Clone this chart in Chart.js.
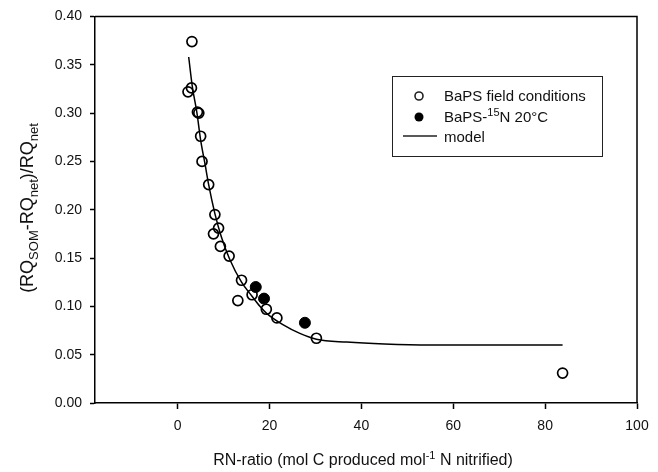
<!DOCTYPE html>
<html>
<head>
<meta charset="utf-8">
<script src="https://cdn.jsdelivr.net/npm/chart.js@4.4.1/dist/chart.umd.min.js"></script>
<style>
  html, body { margin: 0; padding: 0; background: #fff; }
  #wrap { width: 658px; height: 472px; }
</style>
</head>
<body>
<div id="wrap"><canvas id="chart" width="658" height="472"></canvas></div>
<script>
// BaPS field conditions (open circles)
const fieldX = [3.1, 3.0, 2.25, 4.3, 4.6, 5.0, 5.3, 6.75, 8.1, 8.9, 7.8, 9.3, 11.2, 13.9, 13.1, 16.2, 19.3, 21.6, 30.2, 83.8];
const fieldY = [0.374, 0.326, 0.322, 0.301, 0.300, 0.276, 0.250, 0.226, 0.195, 0.181, 0.175, 0.162, 0.152, 0.127, 0.106, 0.112, 0.097, 0.088, 0.067, 0.031];

// BaPS-15N 20°C (filled circles)
const labX = [17.0, 18.8, 27.7];
const labY = [0.120, 0.108, 0.083];

// model curve
const modelX = [2.4, 3.2, 4.2, 5.0, 6.0, 6.7, 8.1, 9.5, 11.3, 13.9, 16.1, 17.9, 19.3, 22.9, 26.6, 30.2, 36.8, 45, 55, 70, 83.8];
const modelY = [0.358, 0.327, 0.300, 0.272, 0.246, 0.227, 0.196, 0.172, 0.149, 0.125, 0.111, 0.100, 0.093, 0.081, 0.072, 0.066, 0.063, 0.061, 0.060, 0.060, 0.060];

const xTicks = [0, 20, 40, 60, 80, 100];
const FONT = 'Liberation Sans, Arial, Helvetica, sans-serif';

const toPoints = (xs, ys) => xs.map((x, i) => ({ x: x, y: ys[i] }));

// draw a string made of runs: {t, m} with m = '' | 'sub' | 'sup'
function drawRuns(ctx, runs, x, y, size, align) {
    const small = Math.round(size * 0.7);
    const widths = runs.map(r => {
        ctx.font = (r.m ? small : size) + 'px ' + FONT;
        return ctx.measureText(r.t).width;
    });
    const total = widths.reduce((a, b) => a + b, 0);
    let cx = align === 'center' ? x - total / 2 : x;
    runs.forEach((r, i) => {
        ctx.font = (r.m ? small : size) + 'px ' + FONT;
        let dy = 0;
        if (r.m === 'sub') dy = size * 0.28;
        if (r.m === 'sup') dy = -size * 0.4;
        ctx.fillText(r.t, cx, y + dy);
        cx += widths[i];
    });
}

const decorPlugin = {
    id: 'decor',
    afterDraw(chart) {
        const ctx = chart.ctx;
        const a = chart.chartArea;
        ctx.save();
        ctx.strokeStyle = '#000';
        ctx.lineWidth = 1.5;
        ctx.beginPath();
        ctx.moveTo(a.left, a.top);
        ctx.lineTo(a.right, a.top);
        ctx.lineTo(a.right, a.bottom);
        ctx.stroke();

        ctx.fillStyle = '#111';
        ctx.textBaseline = 'alphabetic';

        // x title
        drawRuns(ctx, [
            { t: 'RN-ratio (mol C produced mol', m: '' },
            { t: '-1', m: 'sup' },
            { t: ' N nitrified)', m: '' }
        ], (a.left + a.right) / 2 - 3, 465, 16, 'center');

        // y title
        ctx.save();
        ctx.translate(33, 208);
        ctx.rotate(-Math.PI / 2);
        drawRuns(ctx, [
            { t: '(RQ', m: '' }, { t: 'SOM', m: 'sub' },
            { t: '-RQ', m: '' }, { t: 'net', m: 'sub' },
            { t: ')/RQ', m: '' }, { t: 'net', m: 'sub' }
        ], 0, 0, 18, 'center');
        ctx.restore();

        // legend
        ctx.strokeStyle = '#222';
        ctx.lineWidth = 1;
        ctx.strokeRect(392.5, 76.5, 210, 80);
        ctx.lineWidth = 1.6;
        ctx.beginPath();
        ctx.arc(419, 96, 4, 0, Math.PI * 2);
        ctx.stroke();
        ctx.beginPath();
        ctx.arc(419, 117, 4.5, 0, Math.PI * 2);
        ctx.fillStyle = '#000';
        ctx.fill();
        ctx.lineWidth = 1.5;
        ctx.beginPath();
        ctx.moveTo(403, 136);
        ctx.lineTo(437, 136);
        ctx.stroke();
        ctx.fillStyle = '#111';
        drawRuns(ctx, [{ t: 'BaPS field conditions', m: '' }], 444, 101, 15, 'left');
        drawRuns(ctx, [{ t: 'BaPS-', m: '' }, { t: '15', m: 'sup' }, { t: 'N 20°C', m: '' }], 444, 122, 15, 'left');
        drawRuns(ctx, [{ t: 'model', m: '' }], 444, 142, 15, 'left');
        ctx.restore();
    }
};

new Chart(document.getElementById('chart'), {
    type: 'scatter',
    data: {
        datasets: [
            {
                label: 'model',
                data: toPoints(modelX, modelY),
                showLine: true,
                borderColor: '#000',
                borderWidth: 1.5,
                pointRadius: 0,
                cubicInterpolationMode: 'monotone',
                fill: false
            },
            {
                label: 'BaPS field conditions',
                data: toPoints(fieldX, fieldY),
                pointRadius: 5,
                pointBorderWidth: 1.7,
                pointBorderColor: '#000',
                pointBackgroundColor: 'rgba(255,255,255,0)'
            },
            {
                label: 'BaPS-15N 20°C',
                data: toPoints(labX, labY),
                pointRadius: 5.5,
                pointBorderWidth: 1,
                pointBorderColor: '#000',
                pointBackgroundColor: '#000'
            }
        ]
    },
    options: {
        responsive: false,
        animation: false,
        devicePixelRatio: 1,
        layout: { padding: { top: 13, right: 21, left: 0, bottom: 0 } },
        plugins: {
            legend: { display: false },
            tooltip: { enabled: false }
        },
        scales: {
            x: {
                type: 'linear',
                min: -18,
                max: 100,
                afterBuildTicks: scale => { scale.ticks = xTicks.map(v => ({ value: v })); },
                afterFit: scale => { scale.height = 69; },
                grid: { drawOnChartArea: false, drawTicks: true, tickLength: 6, tickColor: '#000', tickWidth: 1.5 },
                border: { display: true, color: '#000', width: 1.5 },
                ticks: { color: '#111', font: { family: FONT, size: 14 }, padding: 9, maxRotation: 0 }
            },
            y: {
                min: 0,
                max: 0.4,
                afterFit: scale => { scale.width = 95; },
                grid: { drawOnChartArea: false, drawTicks: true, tickLength: 5, tickColor: '#000', tickWidth: 1.5 },
                border: { display: true, color: '#000', width: 1.5 },
                ticks: {
                    stepSize: 0.05,
                    color: '#111',
                    font: { family: FONT, size: 14 },
                    padding: 8,
                    callback: v => v.toFixed(2)
                }
            }
        }
    },
    plugins: [decorPlugin]
});
</script>
</body>
</html>
